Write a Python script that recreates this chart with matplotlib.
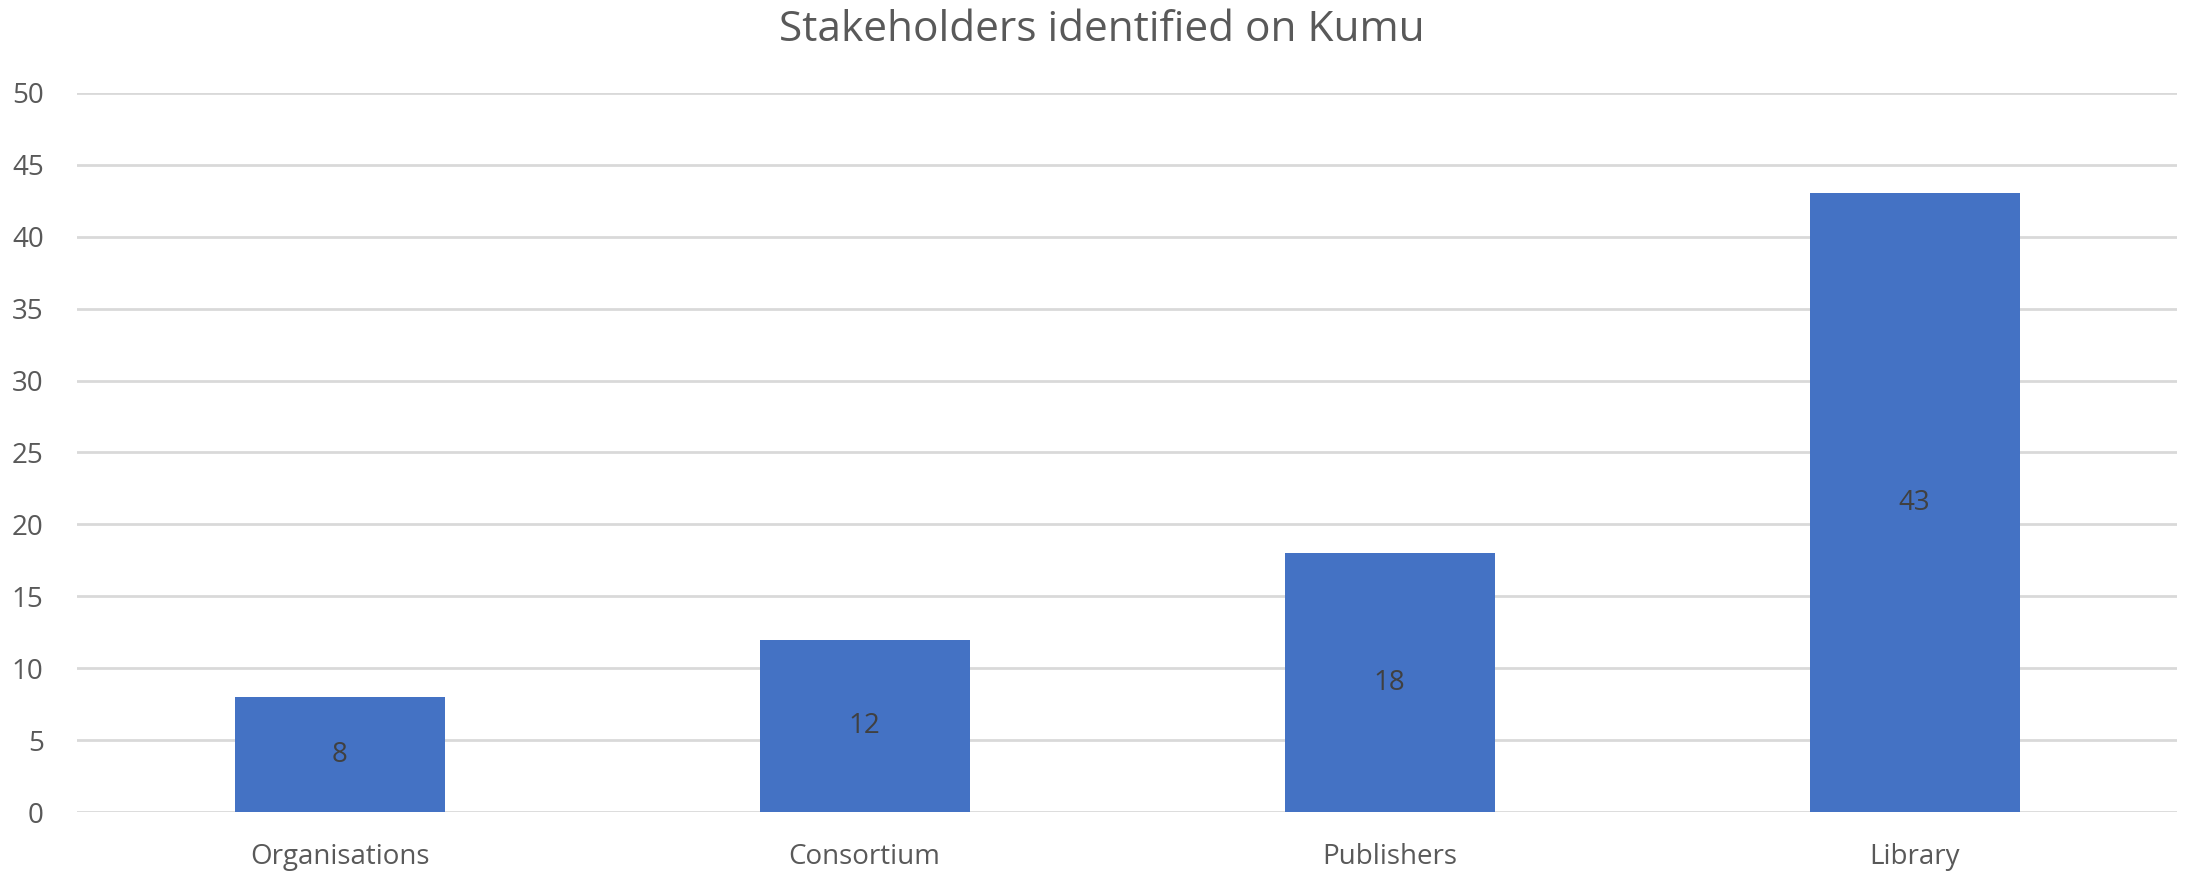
import matplotlib
matplotlib.use("Agg")
import matplotlib.pyplot as plt
import numpy as np

categories = ["Organisations", "Consortium", "Publishers", "Library"]
values = [8, 12, 18, 43]
yticks = [0, 5, 10, 15, 20, 25, 30, 35, 40, 45, 50]
title = "Stakeholders identified on Kumu"

plt.rcParams['font.family'] = ['Open Sans', 'DejaVu Sans']

fig = plt.figure(figsize=(21.88, 8.71), dpi=100)
ax = fig.add_axes([77/2188, 1-812.3/871, 2100/2188, 719.6/871])

x = np.arange(len(categories))
ax.bar(x, values, width=0.4, color="#4472C4", linewidth=0, zorder=3)
for xi, v in zip(x, values):
    ax.text(xi, v/2, str(v), ha="center", va="center", fontsize=20, color="#404040", zorder=4)

ax.set_xlim(-0.5, len(categories) - 0.5)
ax.set_ylim(0, 50)
ax.set_yticks(yticks)
ax.set_yticklabels([str(t) for t in yticks])
ax.set_xticks(x)
ax.set_xticklabels(categories)
ax.tick_params(axis='both', length=0, labelsize=20, labelcolor="#595959")
ax.tick_params(axis='y', pad=24)
ax.tick_params(axis='x', pad=22)
ax.yaxis.grid(True, color="#D9D9D9", linewidth=2, zorder=0)
ax.set_axisbelow(True)
for s in ax.spines.values():
    s.set_visible(False)

fig.text(0.5035, 1-30/871, title, ha="center", va="center", fontsize=30.5, color="#595959")

fig.savefig("out.png", dpi=100)
